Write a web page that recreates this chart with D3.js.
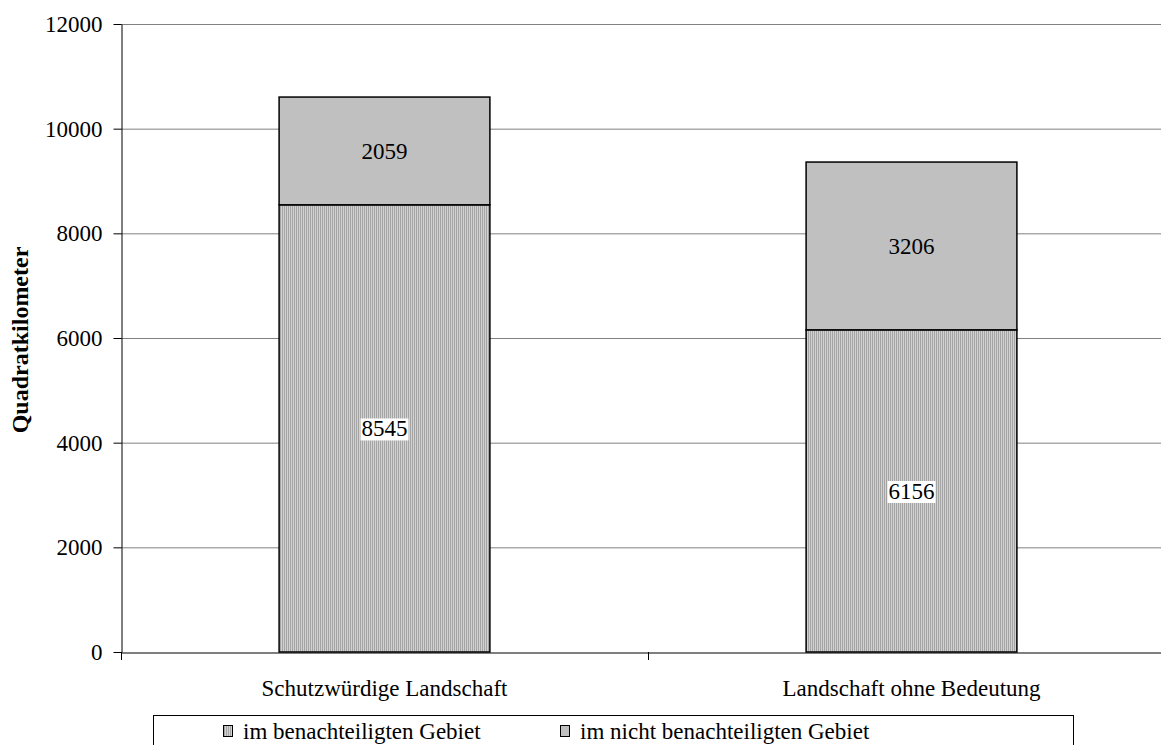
<!DOCTYPE html>
<html>
<head>
<meta charset="utf-8">
<script src="https://cdn.jsdelivr.net/npm/d3@7"></script>
<style>
  html, body { margin: 0; padding: 0; background: #fff; }
  svg { display: block; }
  text { font-family: "Liberation Serif", "Times New Roman", serif; fill: #000; }
</style>
</head>
<body>
<svg id="chart" width="1161" height="745"></svg>
<script>
// Landscape area (km²) split by disadvantaged-area status
const categories = ["Schutzwürdige Landschaft", "Landschaft ohne Bedeutung"];
const seriesNames = ["im benachteiligten Gebiet", "im nicht benachteiligten Gebiet"];
const benachteiligt = [8545, 6156];
const nichtBenachteiligt = [2059, 3206];
const yTicks = [0, 2000, 4000, 6000, 8000, 10000, 12000];

const FONT = "Liberation Serif, Times New Roman, serif";
const FS = 23;

const svg = d3.select("#chart");
const W = 1161;

const defs = svg.append("defs");
const pat = defs.append("pattern")
  .attr("id", "stripes").attr("patternUnits", "userSpaceOnUse")
  .attr("width", 2).attr("height", 4);
pat.append("rect").attr("width", 2).attr("height", 4).attr("fill", "#d2d2d2");
pat.append("rect").attr("width", 1).attr("height", 4).attr("fill", "#a4a4a4");

const x0 = 121, x1 = 1175, yTop = 24, yBot = 652;

const x = d3.scaleBand().domain(categories).range([x0, x1]).paddingInner(0).paddingOuter(0);
const y = d3.scaleLinear().domain([0, 12000]).range([yBot, yTop]);

// gridlines
svg.append("g").selectAll("line").data(yTicks.filter(d => d > 0)).join("line")
  .attr("x1", x0).attr("x2", W).attr("y1", d => y(d) + 0.5).attr("y2", d => y(d) + 0.5)
  .attr("stroke", "#808080").attr("stroke-width", 1);

// stacked data
const rows = categories.map((c, i) => ({ cat: c, a: benachteiligt[i], b: nichtBenachteiligt[i] }));
const stack = d3.stack().keys(["a", "b"])(rows);
const fills = ["url(#stripes)", "#c0c0c0"];

const barW = x.bandwidth() * 0.4;
const barX = c => x(c) + (x.bandwidth() - barW) / 2;

stack.forEach((layer, li) => {
  svg.append("g").selectAll("rect").data(layer).join("rect")
    .attr("x", d => barX(d.data.cat))
    .attr("y", d => y(d[1]))
    .attr("width", barW)
    .attr("height", d => y(d[0]) - y(d[1]))
    .attr("fill", fills[li])
    .attr("stroke", "#000").attr("stroke-width", 1.5);
});

// value labels
stack.forEach((layer, li) => {
  const g = svg.append("g");
  layer.forEach(d => {
    const v = d[1] - d[0];
    const cx = barX(d.data.cat) + barW / 2;
    const cy = y((d[0] + d[1]) / 2);
    const t = g.append("text").attr("x", cx).attr("y", cy).attr("dy", "0.35em")
      .attr("text-anchor", "middle").attr("font-size", FS).attr("font-family", FONT).text(v);
    if (li === 0) {
      const bb = t.node().getBBox();
      g.insert("rect", "text").attr("x", bb.x - 1).attr("y", bb.y + 2)
        .attr("width", bb.width + 2).attr("height", bb.height - 3).attr("fill", "#fff");
    }
  });
});

// y axis
const yAxis = d3.axisLeft(y).tickValues(yTicks).tickFormat(d3.format("d"))
  .tickSize(8).tickSizeOuter(0).tickPadding(11);
const gy = svg.append("g").attr("transform", `translate(${x0 + 0.5},0)`).call(yAxis);
gy.select(".domain").attr("stroke", "#000");
gy.selectAll(".tick line").attr("stroke", "#000");
gy.selectAll(".tick text").attr("font-size", FS).attr("font-family", FONT).attr("fill", "#000");

// x axis
const xAxis = d3.axisBottom(x).tickSize(0).tickPadding(0);
const gx = svg.append("g").attr("transform", `translate(0,${yBot + 0.5})`).call(xAxis);
gx.select(".domain").attr("stroke", "#000").attr("stroke-width", 1.2);
gx.selectAll(".tick text").attr("font-size", FS).attr("font-family", FONT)
  .attr("fill", "#000").attr("dy", "0").attr("y", 43);
// category separator ticks
svg.append("g").selectAll("line").data([x0, x0 + x.bandwidth()]).join("line")
  .attr("x1", d => d + 0.5).attr("x2", d => d + 0.5)
  .attr("y1", yBot).attr("y2", yBot + 8).attr("stroke", "#000");

// axis title
svg.append("text").attr("transform", `translate(28,${(yTop + yBot) / 2 + 2}) rotate(-90)`)
  .attr("text-anchor", "middle").attr("font-size", 24).attr("font-weight", "bold")
  .attr("font-family", FONT).text("Quadratkilometer");

// legend
const lg = svg.append("g");
lg.append("rect").attr("x", 153.5).attr("y", 715.5).attr("width", 920).attr("height", 60)
  .attr("fill", "#fff").attr("stroke", "#000").attr("stroke-width", 1);
const legendX = [223, 560];
seriesNames.forEach((n, i) => {
  lg.append("rect").attr("x", legendX[i] + 0.5).attr("y", 725.5).attr("width", 9).attr("height", 11)
    .attr("fill", fills[i]).attr("stroke", "#000").attr("stroke-width", 1);
  lg.append("text").attr("x", legendX[i] + 20).attr("y", 739).attr("font-size", FS)
    .attr("font-family", FONT).text(n);
});
</script>
</body>
</html>
